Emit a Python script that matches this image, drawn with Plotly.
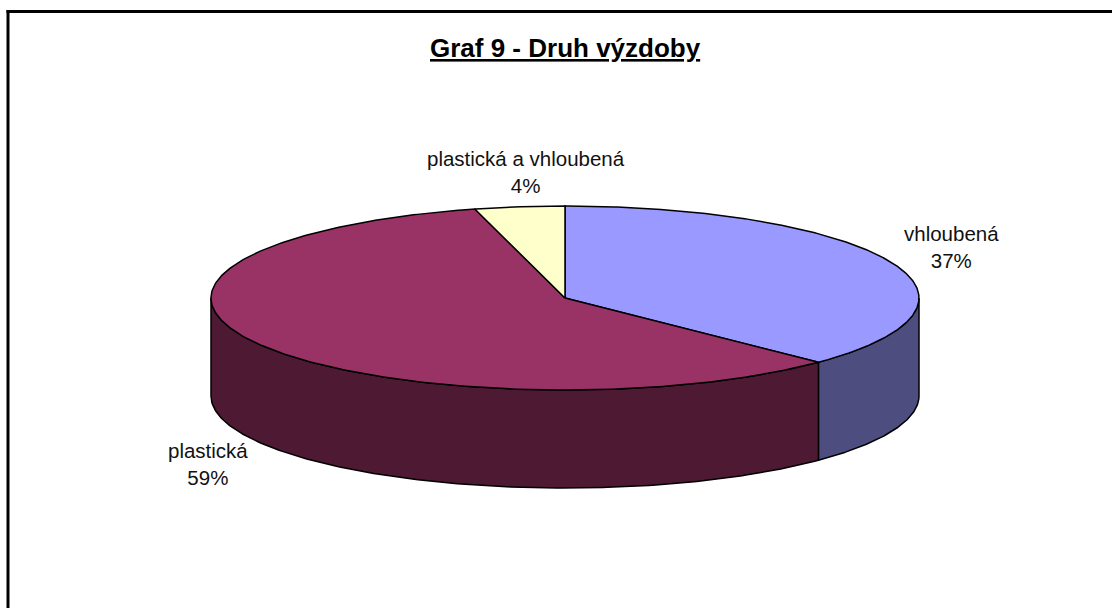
import numpy as np
import plotly.graph_objects as go

categories = ["vhloubená", "plastická", "plastická a vhloubená"]
values = [37.3, 58.6, 4.1]
top_colors = ["#9999FF", "#993366", "#FFFFCC"]
side_colors = ["#4D4D80", "#4D1933", "#808066"]
title_text = "Graf 9 - Druh výzdoby"

W, H = 1112, 608
CX, CY, RX, RY, DEPTH = 565, 298, 354, 92, 98
LABEL_POS = [(951, 247), (208, 464), (526, 172)]
FONT = "Liberation Sans, Arial, sans-serif"
EDGE = dict(color="black", width=1.5)

def ellipse(a):
    return CX + RX * np.sin(a), CY - RY * np.cos(a)

total = sum(values)
bounds = np.cumsum([0] + values) / total * 2 * np.pi

fig = go.Figure()

# side walls (only the front half, pi/2..3pi/2, is visible)
for i in range(len(values)):
    lo, hi = max(bounds[i], np.pi / 2), min(bounds[i + 1], 3 * np.pi / 2)
    if lo >= hi:
        continue
    a = np.linspace(lo, hi, 200)
    x, y = ellipse(a)
    px = np.concatenate([x, x[::-1], x[:1]])
    py = np.concatenate([y, (y + DEPTH)[::-1], y[:1]])
    fig.add_trace(go.Scatter(x=px, y=py, mode="lines", fill="toself",
                             fillcolor=side_colors[i], line=EDGE, hoverinfo="skip"))

# top faces
for i in range(len(values)):
    a = np.linspace(bounds[i], bounds[i + 1], 300)
    x, y = ellipse(a)
    px = np.concatenate([[CX], x, [CX]])
    py = np.concatenate([[CY], y, [CY]])
    fig.add_trace(go.Scatter(x=px, y=py, mode="lines", fill="toself",
                             fillcolor=top_colors[i], line=EDGE,
                             name=categories[i], hoverinfo="name"))

for cat, val, (lx, ly) in zip(categories, values, LABEL_POS):
    fig.add_annotation(x=lx, y=ly, text=f"{cat}<br>{round(val / total * 100)}%",
                       showarrow=False, align="center",
                       font=dict(family=FONT, size=20.5, color="#111111"))

fig.add_annotation(x=565, y=48, text=f"<b><u>{title_text}</u></b>", showarrow=False,
                   font=dict(family=FONT, size=26, color="black"))

# chart frame
fig.add_shape(type="line", x0=8, x1=8, y0=10, y1=H, line=dict(color="black", width=3))
fig.add_shape(type="line", x0=6.5, x1=W, y0=11.5, y1=11.5, line=dict(color="black", width=3))

fig.update_layout(
    width=W, height=H, autosize=False, showlegend=False,
    margin=dict(l=0, r=0, t=0, b=0),
    paper_bgcolor="white", plot_bgcolor="white",
    xaxis=dict(range=[0, W], visible=False, fixedrange=True),
    yaxis=dict(range=[H, 0], visible=False, fixedrange=True),
)
fig.write_html("out.html", config={"displayModeBar": False},
               post_script="document.body.style.margin='0';document.body.style.overflow='hidden';")
